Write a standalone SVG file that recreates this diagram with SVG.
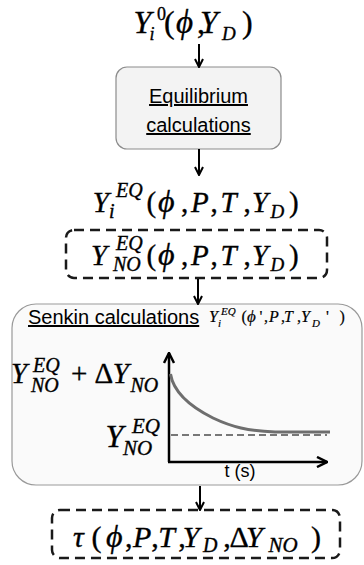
<svg xmlns="http://www.w3.org/2000/svg" width="364" height="565" viewBox="0 0 364 565">
<defs>
<style>
.m{font-family:"Liberation Serif","Times New Roman",serif;fill:#000;stroke:#000;stroke-width:0.35}
.i{font-style:italic}
.s{font-family:"Liberation Sans",Arial,sans-serif;fill:#000}
.u{text-decoration:underline}
.dash{fill:none;stroke:#1a1a1a;stroke-width:2.5;stroke-dasharray:10 6}
.conn{stroke:#000;stroke-width:2;fill:none}
</style>
<marker id="ah" viewBox="0 0 10 10" refX="9" refY="5" markerWidth="10" markerHeight="10" markerUnits="userSpaceOnUse" orient="auto">
<path d="M1,1 L9,5 L1,9" fill="none" stroke="#000" stroke-width="2"/>
</marker>
<marker id="ah2" viewBox="0 0 12 12" refX="11" refY="6" markerWidth="12" markerHeight="12" markerUnits="userSpaceOnUse" orient="auto">
<path d="M1,1 L11,6 L1,11" fill="none" stroke="#000" stroke-width="2.5"/>
</marker>
</defs>
<rect width="364" height="565" fill="#fff"/>

<g id="n-initial">
<text class="m" font-size="32"><tspan class="i" x="133.5" y="33">Y</tspan><tspan x="157" y="20" font-size="18">0</tspan><tspan class="i" x="149.5" y="40" font-size="18">i</tspan><tspan x="164" y="33">(</tspan><tspan class="i" x="176" y="33" font-size="33">ϕ</tspan><tspan x="197" y="33">,</tspan><tspan class="i" x="200" y="33">Y</tspan><tspan class="i" x="222" y="40" font-size="19">D</tspan><tspan x="242" y="33">)</tspan></text>
</g>

<g id="n-equilibrium">
<rect x="116" y="67" width="165" height="82" rx="11" fill="#f3f3f3" stroke="#8c8c8c" stroke-width="1.2"/>
<text class="s u" font-size="20" x="198.5" y="103" text-anchor="middle">Equilibrium</text>
<text class="s u" font-size="20" x="198.5" y="132" text-anchor="middle">calculations</text>
</g>

<g id="n-yeq">
<text class="m" font-size="29"><tspan class="i" x="92.7" y="212">Y</tspan><tspan class="i" x="116" y="197" font-size="20">EQ</tspan><tspan class="i" x="109" y="218" font-size="20">i</tspan><tspan x="146.6" y="212">(</tspan><tspan class="i" x="158" y="212" font-size="32">ϕ</tspan><tspan x="181" y="212">,</tspan><tspan class="i" x="191" y="212">P</tspan><tspan x="210.4" y="212">,</tspan><tspan class="i" x="220.5" y="212">T</tspan><tspan x="243.4" y="212">,</tspan><tspan class="i" x="252" y="212">Y</tspan><tspan class="i" x="270.5" y="218" font-size="19">D</tspan><tspan x="289" y="212">)</tspan></text>
</g>

<g id="n-yno">
<rect class="dash" x="66" y="230" width="261" height="48" rx="8"/>
<text class="m" font-size="29"><tspan class="i" x="91" y="265">Y</tspan><tspan class="i" x="116" y="250" font-size="20">EQ</tspan><tspan class="i" x="113" y="271" font-size="20">NO</tspan><tspan x="146.6" y="265">(</tspan><tspan class="i" x="158" y="265" font-size="32">ϕ</tspan><tspan x="181" y="265">,</tspan><tspan class="i" x="191" y="265">P</tspan><tspan x="210.4" y="265">,</tspan><tspan class="i" x="220.5" y="265">T</tspan><tspan x="243.4" y="265">,</tspan><tspan class="i" x="252" y="265">Y</tspan><tspan class="i" x="270.5" y="271" font-size="19">D</tspan><tspan x="289" y="265">)</tspan></text>
</g>

<g id="n-senkin">
<rect x="12" y="304" width="350" height="181" rx="24" fill="#fafafa" stroke="#999" stroke-width="1.2"/>
<text class="s u" font-size="20" x="28" y="324">Senkin calculations</text>
<text class="m" font-size="16" style="stroke-width:0.2"><tspan class="i" x="209" y="322">Y</tspan><tspan class="i" x="221" y="315" font-size="11">EQ</tspan><tspan class="i" x="218" y="327" font-size="11">i</tspan><tspan x="241.5" y="322">(</tspan><tspan class="i" x="247" y="322" font-size="17">ϕ</tspan><tspan x="259.5" y="322">'</tspan><tspan x="264" y="322">,</tspan><tspan class="i" x="269" y="322">P</tspan><tspan x="281" y="322">,</tspan><tspan class="i" x="284" y="322">T</tspan><tspan x="297" y="322">,</tspan><tspan class="i" x="301" y="322">Y</tspan><tspan class="i" x="312" y="327" font-size="11">D</tspan><tspan x="326" y="322">'</tspan><tspan x="339.5" y="322">)</tspan></text>

<text class="m" font-size="29"><tspan class="i" x="11" y="383">Y</tspan><tspan class="i" x="33" y="372" font-size="20">EQ</tspan><tspan class="i" x="31" y="392" font-size="20">NO</tspan><tspan x="71" y="383">+</tspan><tspan x="94.5" y="383">Δ</tspan><tspan class="i" x="112.7" y="383">Y</tspan><tspan class="i" x="130.5" y="392" font-size="20">NO</tspan></text>

<text class="m" font-size="32"><tspan class="i" x="105.5" y="447">Y</tspan><tspan class="i" x="132" y="433" font-size="21">EQ</tspan><tspan class="i" x="123" y="455" font-size="21">NO</tspan></text>

<line x1="169" y1="462" x2="169" y2="353" stroke="#000" stroke-width="2.5" marker-end="url(#ah2)"/>
<line x1="168" y1="462" x2="327" y2="462" stroke="#000" stroke-width="2.5" marker-end="url(#ah2)"/>
<line x1="171" y1="435" x2="327" y2="435" stroke="#777" stroke-width="2" stroke-dasharray="7 4"/>
<path d="M170.5,374 C174,395 195,409 213,418 C232,427 248,431 275,432 L330,432" fill="none" stroke="#6e6e6e" stroke-width="3"/>
<text class="s" font-size="18" x="240" y="477" text-anchor="middle">t (s)</text>
</g>

<g id="n-tau">
<rect class="dash" x="52" y="510" width="288" height="48" rx="8"/>
<text class="m" font-size="30"><tspan class="i" x="73" y="547">τ</tspan><tspan x="91.5" y="547">(</tspan><tspan class="i" x="106" y="547" font-size="32">ϕ</tspan><tspan x="125" y="547">,</tspan><tspan class="i" x="133" y="547">P</tspan><tspan x="151.3" y="547">,</tspan><tspan class="i" x="158.2" y="547">T</tspan><tspan x="178.3" y="547">,</tspan><tspan class="i" x="182.7" y="547">Y</tspan><tspan class="i" x="203" y="552" font-size="20">D</tspan><tspan x="223.3" y="547">,</tspan><tspan x="229.5" y="547">Δ</tspan><tspan class="i" x="246" y="547">Y</tspan><tspan class="i" x="268.5" y="552" font-size="21">NO</tspan><tspan x="311" y="547">)</tspan></text>
</g>

<g id="connectors">
<line class="conn" x1="199" y1="44" x2="199" y2="67" marker-end="url(#ah)"/>
<line class="conn" x1="199" y1="149" x2="199" y2="175" marker-end="url(#ah)"/>
<line class="conn" x1="198" y1="279" x2="198" y2="304" marker-end="url(#ah)"/>
<line class="conn" x1="200" y1="486" x2="200" y2="510" marker-end="url(#ah)"/>
</g>
</svg>
